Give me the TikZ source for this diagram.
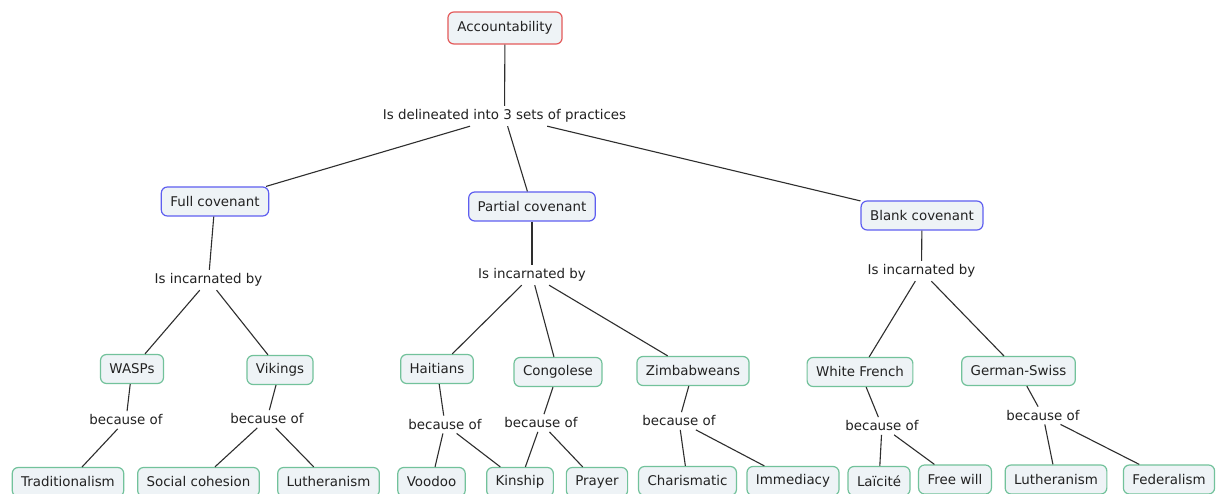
\documentclass[tikz,border=0pt]{standalone}
\usepackage{fontspec}
\setmainfont{DejaVu Sans}
\definecolor{boxfill}{HTML}{EEF3F6}
\definecolor{rootred}{HTML}{E45A5A}
\definecolor{covblue}{HTML}{5E5EF0}
\definecolor{leafgreen}{HTML}{72C29B}
\definecolor{linkgray}{HTML}{2E2E2E}
\definecolor{txt}{HTML}{222222}
\newcommand{\cmfont}{\fontsize{13.4}{15}\selectfont}
\tikzset{
  concept/.style={rectangle, rounded corners=6pt, draw, line width=1.2pt, fill=boxfill,
    minimum height=29pt, inner xsep=9pt, inner ysep=2pt, font=\cmfont, text=txt},
  rootbox/.style={concept, draw=rootred, minimum height=32pt, inner xsep=9.5pt},
  covbox/.style={concept, draw=covblue},
  leafbox/.style={concept, draw=leafgreen},
  linklab/.style={rectangle, inner xsep=2pt, inner ysep=3.5pt, font=\cmfont, text=txt},
  link/.style={draw=linkgray, line width=1.1pt}
}
\begin{document}
\begin{tikzpicture}[x=1pt,y=-1pt]
\useasboundingbox (0,0) rectangle (1216,494);
\clip (0,0) rectangle (1216,494);
\fill[white] (0,0) rectangle (1216,494);

% top
\node[rootbox] (acc) at (505,28) {Accountability};
\node[linklab] (del) at (504.5,116) {Is delineated into 3 sets of practices};

% covenants
\node[covbox] (full) at (215,201.5) {Full covenant};
\node[covbox] (part) at (532,206.5) {Partial covenant};
\node[covbox] (blank) at (922,215.5) {Blank covenant};

% incarnated labels
\node[linklab] (incF) at (208.5,280) {Is incarnated by};
\node[linklab] (incP) at (532,275) {Is incarnated by};
\node[linklab] (incB) at (921.5,271) {Is incarnated by};

% groups
\node[leafbox] (wasp) at (132,369) {WASPs};
\node[leafbox] (vik) at (280,370) {Vikings};
\node[leafbox] (hai) at (437,369) {Haitians};
\node[leafbox] (con) at (558,372) {Congolese};
\node[leafbox] (zim) at (693,371) {Zimbabweans};
\node[leafbox] (wf) at (860,372) {White French};
\node[leafbox] (gs) at (1018.5,371) {German-Swiss};

% because of labels
\node[linklab] (bWasp) at (126,420) {because of};
\node[linklab] (bVik) at (267,419) {because of};
\node[linklab] (bHai) at (445,424.5) {because of};
\node[linklab] (bCon) at (541,423) {because of};
\node[linklab] (bZim) at (679,421) {because of};
\node[linklab] (bWf) at (882,426) {because of};
\node[linklab] (bGs) at (1043,415.5) {because of};

% leaves
\node[leafbox] (trad) at (68,482) {Traditionalism};
\node[leafbox] (soc) at (198.5,482) {Social cohesion};
\node[leafbox] (lut1) at (328.5,482) {Lutheranism};
\node[leafbox] (voo) at (431.5,482) {Voodoo};
\node[leafbox] (kin) at (520,482) {Kinship};
\node[leafbox] (pra) at (597,482) {Prayer};
\node[leafbox] (cha) at (687.5,481) {Charismatic};
\node[leafbox] (imm) at (793,481) {Immediacy};
\node[leafbox] (lai) at (879,481) {Laïcité};
\node[leafbox] (fw) at (955,479.5) {Free will};
\node[leafbox] (lut2) at (1056,479.5) {Lutheranism};
\node[leafbox] (fed) at (1169,479.5) {Federalism};

% links
\draw[link] (acc) -- (del);
\draw[link] (del) -- (full);
\draw[link] (del) -- (part);
\draw[link] (del) -- (blank);

\draw[link] (full) -- (incF);
\draw[link] (part) -- (incP);
\draw[link] (blank) -- (incB);

\draw[link] (incF) -- (wasp);
\draw[link] (incF) -- (vik);
\draw[link] (incP) -- (hai);
\draw[link] (incP) -- (con);
\draw[link] (incP) -- (zim);
\draw[link] (incB) -- (wf);
\draw[link] (incB) -- (gs);

\draw[link] (wasp) -- (bWasp);
\draw[link] (vik) -- (bVik);
\draw[link] (hai) -- (bHai);
\draw[link] (con) -- (bCon);
\draw[link] (zim) -- (bZim);
\draw[link] (wf) -- (bWf);
\draw[link] (gs) -- (bGs);

\draw[link] (bWasp) -- (trad);
\draw[link] (bVik) -- (soc);
\draw[link] (bVik) -- (lut1);
\draw[link] (bHai) -- (voo);
\draw[link] (bHai) -- (kin);
\draw[link] (bCon) -- (kin);
\draw[link] (bCon) -- (pra);
\draw[link] (bZim) -- (cha);
\draw[link] (bZim) -- (imm);
\draw[link] (bWf) -- (lai);
\draw[link] (bWf) -- (fw);
\draw[link] (bGs) -- (lut2);
\draw[link] (bGs) -- (fed);
\end{tikzpicture}
\end{document}
